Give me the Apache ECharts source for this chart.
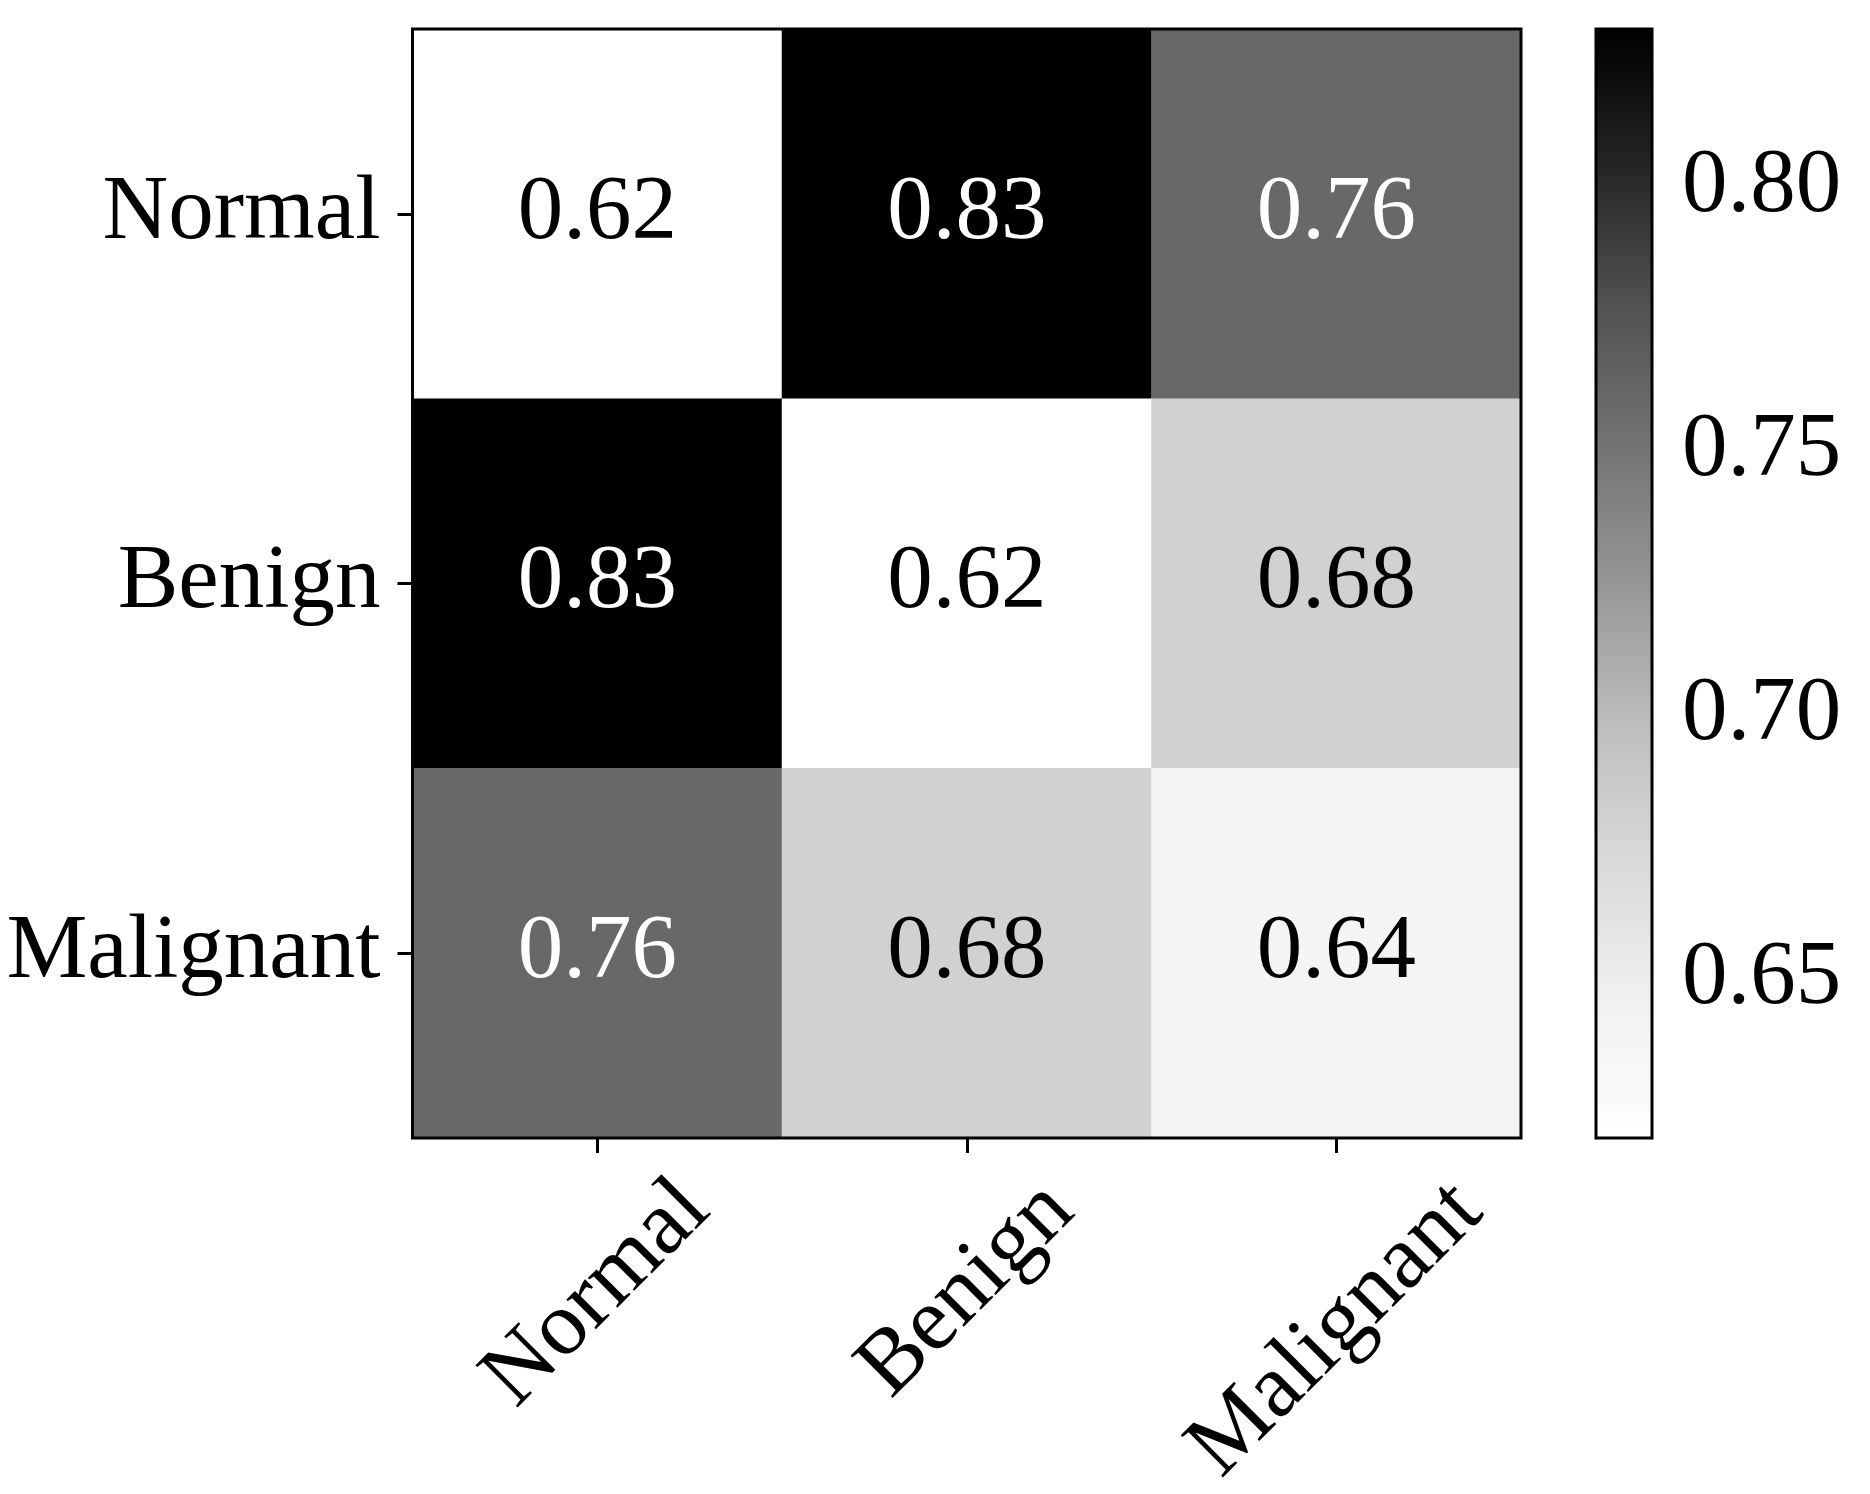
<!DOCTYPE html>
<html>
<head>
<meta charset="utf-8">
<script src="https://cdn.jsdelivr.net/npm/echarts@6/dist/echarts.min.js"></script>
<style>
  html, body { margin: 0; padding: 0; background: #ffffff; }
  #chart { width: 1870px; height: 1494px; }
</style>
</head>
<body>
<div id="chart"></div>
<script>
// ---- data ----
const categories = ['Normal', 'Benign', 'Malignant'];
const rowNormal = [0.62, 0.83, 0.76];
const rowBenign = [0.83, 0.62, 0.68];
const rowMalignant = [0.76, 0.68, 0.64];
const colorbarTicks = [0.65, 0.70, 0.75, 0.80];
const colorMin = 0.62;
const colorMax = 0.83;

const rows = [rowNormal, rowBenign, rowMalignant];
const heatData = [];
rows.forEach(function (row, r) {
  row.forEach(function (v, c) { heatData.push([c, r, v]); });
});

const FONT = '"Liberation Serif", "Times New Roman", serif';
const FS = 91;
const LW = 3;
const TICK = 15;
const greys = ['#ffffff', '#f0f0f0', '#d9d9d9', '#bdbdbd', '#969696', '#737373', '#525252', '#252525', '#000000'];
const thresh = (colorMin + colorMax) / 2;
const xLabelMargins = [156, 152, 192];

const mainGrid = { left: 412.5, top: 29, width: 1108.5, height: 1109 };
const cbGrid = { left: 1596, top: 29, width: 56, height: 1109 };

function xAxisFor(i) {
  return {
    type: 'category',
    gridIndex: 0,
    position: 'bottom',
    data: categories,
    axisLine: { show: false },
    axisTick: { show: i === 0, interval: 0, alignWithLabel: true, length: TICK, lineStyle: { color: '#000', width: LW } },
    splitLine: { show: false },
    axisLabel: {
      interval: function (idx) { return idx === i; },
      rotate: 45,
      align: 'center',
      verticalAlign: 'middle',
      margin: xLabelMargins[i],
      fontSize: FS,
      fontFamily: FONT,
      color: '#000'
    }
  };
}

const chart = echarts.init(document.getElementById('chart'), null, { renderer: 'canvas' });
chart.setOption({
  backgroundColor: '#ffffff',
  animation: false,
  grid: [
    Object.assign({ show: false, containLabel: false, outerBoundsMode: 'none' }, mainGrid),
    Object.assign({ show: true, outerBoundsMode: 'none', borderColor: '#000', borderWidth: LW, backgroundColor: 'transparent', z: 10 }, cbGrid),
    Object.assign({ show: true, outerBoundsMode: 'none', borderColor: '#000', borderWidth: LW, backgroundColor: 'transparent', z: 10 }, mainGrid)
  ],
  xAxis: [
    xAxisFor(0), xAxisFor(1), xAxisFor(2),
    { type: 'value', gridIndex: 1, show: false, min: 0, max: 1 },
    { type: 'value', gridIndex: 2, show: false, min: 0, max: 1 }
  ],
  yAxis: [
    {
      type: 'category',
      gridIndex: 0,
      inverse: true,
      data: categories,
      axisLine: { show: false },
      axisTick: { show: true, interval: 0, alignWithLabel: true, length: TICK, lineStyle: { color: '#000', width: LW } },
      splitLine: { show: false },
      axisLabel: { margin: 32, fontSize: FS, fontFamily: FONT, color: '#000' }
    },
    {
      type: 'value',
      gridIndex: 1,
      position: 'right',
      min: colorMin,
      max: colorMax,
      axisLine: { show: false },
      splitLine: { show: false },
      axisTick: { show: true, length: TICK, customValues: colorbarTicks, lineStyle: { color: '#000', width: LW } },
      axisLabel: {
        customValues: colorbarTicks,
        margin: 30,
        fontSize: FS,
        fontFamily: FONT,
        color: '#000',
        formatter: function (v) { return v.toFixed(2); }
      }
    },
    { type: 'value', gridIndex: 2, show: false, min: 0, max: 1 }
  ],
  visualMap: {
    type: 'continuous',
    seriesIndex: 0,
    min: colorMin,
    max: colorMax,
    orient: 'vertical',
    left: cbGrid.left,
    top: cbGrid.top,
    itemWidth: cbGrid.width,
    itemHeight: cbGrid.height,
    padding: 0,
    calculable: false,
    realtime: false,
    showLabel: false,
    text: null,
    hoverLink: false,
    inRange: { color: greys }
  },
  series: [{
    type: 'heatmap',
    xAxisIndex: 0,
    yAxisIndex: 0,
    data: heatData,
    emphasis: { disabled: true },
    label: {
      show: true,
      formatter: function (p) {
        const v = p.value[2];
        return (v > thresh ? '{w|' : '{k|') + v.toFixed(2) + '}';
      },
      rich: {
        w: { color: '#ffffff', fontSize: FS, fontFamily: FONT },
        k: { color: '#000000', fontSize: FS, fontFamily: FONT }
      }
    }
  }]
});
</script>
</body>
</html>
